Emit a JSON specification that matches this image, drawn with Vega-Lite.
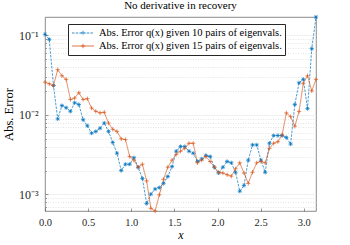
{
  "$schema": "https://vega.github.io/schema/vega-lite/v6.json",
  "width": 271,
  "height": 194,
  "autosize": {"type": "none"},
  "padding": {"left": 45, "top": 17, "right": 34, "bottom": 34},
  "background": "white",
  "title": {"text": "No derivative in recovery", "font": "Liberation Serif", "fontSize": 11, "fontWeight": "normal", "color": "#000000", "offset": 2},
  "config": {
    "view": {"stroke": "#6e6e6e", "strokeWidth": 0.8},
    "axis": {"labelFont": "Liberation Serif", "titleFont": "Liberation Serif", "labelColor": "#262626", "titleColor": "#000000", "titleFontWeight": "normal", "domain": false, "tickColor": "#555555", "tickWidth": 0.6}
  },
  "data": {"values": [
    {"x": 0.0000, "b10": 0.103, "b15": 0.0258},
    {"x": 0.0491, "b10": 0.089, "b15": 0.0246},
    {"x": 0.0982, "b10": 0.0234, "b15": 0.0234},
    {"x": 0.1473, "b10": 0.0089, "b15": 0.037},
    {"x": 0.1963, "b10": 0.0131, "b15": 0.031},
    {"x": 0.2454, "b10": 0.0123, "b15": 0.028},
    {"x": 0.2945, "b10": 0.0111, "b15": 0.0156},
    {"x": 0.3436, "b10": 0.0142, "b15": 0.0163},
    {"x": 0.3927, "b10": 0.0135, "b15": 0.019},
    {"x": 0.4418, "b10": 0.0087, "b15": 0.0156},
    {"x": 0.4909, "b10": 0.0073, "b15": 0.016},
    {"x": 0.5400, "b10": 0.0059, "b15": 0.0122},
    {"x": 0.5890, "b10": 0.0062, "b15": 0.0111},
    {"x": 0.6381, "b10": 0.0068, "b15": 0.0106},
    {"x": 0.6872, "b10": 0.0079, "b15": 0.0108},
    {"x": 0.7363, "b10": 0.0062, "b15": 0.0079},
    {"x": 0.7854, "b10": 0.0045, "b15": 0.0066},
    {"x": 0.8345, "b10": 0.0033, "b15": 0.0062},
    {"x": 0.8836, "b10": 0.0020, "b15": 0.0050},
    {"x": 0.9327, "b10": 0.0024, "b15": 0.0049},
    {"x": 0.9817, "b10": 0.0024, "b15": 0.0030},
    {"x": 1.0308, "b10": 0.0029, "b15": 0.0027},
    {"x": 1.0799, "b10": 0.0022, "b15": 0.0022},
    {"x": 1.1290, "b10": 0.00159, "b15": 0.0024},
    {"x": 1.1781, "b10": 0.00077, "b15": 0.00148},
    {"x": 1.2272, "b10": 0.00101, "b15": 0.00067},
    {"x": 1.2763, "b10": 0.00117, "b15": 0.00062},
    {"x": 1.3254, "b10": 0.00122, "b15": 0.00099},
    {"x": 1.3744, "b10": 0.00138, "b15": 0.00155},
    {"x": 1.4235, "b10": 0.00168, "b15": 0.0022},
    {"x": 1.4726, "b10": 0.00224, "b15": 0.0027},
    {"x": 1.5217, "b10": 0.0035, "b15": 0.0032},
    {"x": 1.5708, "b10": 0.0040, "b15": 0.0035},
    {"x": 1.6199, "b10": 0.0040, "b15": 0.0038},
    {"x": 1.6690, "b10": 0.0035, "b15": 0.0044},
    {"x": 1.7181, "b10": 0.0033, "b15": 0.0044},
    {"x": 1.7671, "b10": 0.0026, "b15": 0.0025},
    {"x": 1.8162, "b10": 0.0028, "b15": 0.0027},
    {"x": 1.8653, "b10": 0.0031, "b15": 0.0030},
    {"x": 1.9144, "b10": 0.0030, "b15": 0.0026},
    {"x": 1.9635, "b10": 0.0022, "b15": 0.0022},
    {"x": 2.0126, "b10": 0.00186, "b15": 0.0019},
    {"x": 2.0617, "b10": 0.0022, "b15": 0.00186},
    {"x": 2.1108, "b10": 0.0026, "b15": 0.00177},
    {"x": 2.1598, "b10": 0.0025, "b15": 0.0017},
    {"x": 2.2089, "b10": 0.0019, "b15": 0.0021},
    {"x": 2.2580, "b10": 0.0011, "b15": 0.0025},
    {"x": 2.3071, "b10": 0.0013, "b15": 0.00186},
    {"x": 2.3562, "b10": 0.0027, "b15": 0.00138},
    {"x": 2.4053, "b10": 0.0042, "b15": 0.0019},
    {"x": 2.4544, "b10": 0.0042, "b15": 0.0025},
    {"x": 2.5035, "b10": 0.0027, "b15": 0.0026},
    {"x": 2.5525, "b10": 0.0019, "b15": 0.0025},
    {"x": 2.6016, "b10": 0.0044, "b15": 0.0038},
    {"x": 2.6507, "b10": 0.0055, "b15": 0.0044},
    {"x": 2.6998, "b10": 0.0055, "b15": 0.0046},
    {"x": 2.7489, "b10": 0.0055, "b15": 0.0056},
    {"x": 2.7980, "b10": 0.0052, "b15": 0.0106},
    {"x": 2.8471, "b10": 0.0043, "b15": 0.0095},
    {"x": 2.8962, "b10": 0.0135, "b15": 0.0072},
    {"x": 2.9452, "b10": 0.0253, "b15": 0.0110},
    {"x": 2.9943, "b10": 0.028, "b15": 0.025},
    {"x": 3.0434, "b10": 0.012, "b15": 0.031},
    {"x": 3.0925, "b10": 0.068, "b15": 0.020},
    {"x": 3.1416, "b10": 0.17, "b15": 0.028}
  ]},
  "transform": [{"fold": ["b10", "b15"], "as": ["series", "err"]}],
  "encoding": {
    "x": {
      "field": "x", "type": "quantitative",
      "scale": {"domain": [0, 3.14159], "nice": false, "zero": false},
      "axis": {"values": [0, 0.5, 1, 1.5, 2, 2.5, 3], "grid": false, "title": "x", "titleFontStyle": "italic", "titleFontSize": 12, "labelFontSize": 10.5, "tickSize": -3, "labelPadding": 9, "titlePadding": 2, "labelFlush": false}
    },
    "y": {
      "field": "err", "type": "quantitative",
      "scale": {"type": "log", "domain": [0.00062, 0.17], "nice": false},
      "axis": {
        "values": [0.0007, 0.0008, 0.0009, 0.001, 0.002, 0.003, 0.004, 0.005, 0.006, 0.007, 0.008, 0.009, 0.01, 0.02, 0.03, 0.04, 0.05, 0.06, 0.07, 0.08, 0.09, 0.1],
        "labelExpr": "datum.value == 0.1 ? '10⁻¹' : datum.value == 0.01 ? '10⁻²' : datum.value == 0.001 ? '10⁻³' : ''",
        "grid": true,
        "gridColor": {"condition": {"test": "datum.value == 0.1 || datum.value == 0.01 || datum.value == 0.001", "value": "#e6e6e6"}, "value": "#d4d4d4"},
        "gridDash": {"condition": {"test": "datum.value == 0.1 || datum.value == 0.01 || datum.value == 0.001", "value": []}, "value": [1, 1.5]},
        "gridWidth": 0.6,
        "tickSize": {"condition": {"test": "datum.value == 0.1 || datum.value == 0.01 || datum.value == 0.001", "value": -3}, "value": -1.5},
        "labelPadding": 10,
        "labelFontSize": 12,
        "title": "Abs. Error", "titleFontSize": 12.5, "titlePadding": 3
      }
    },
    "color": {
      "field": "series", "type": "nominal",
      "scale": {"domain": ["b10", "b15"], "range": ["#0072BD", "#D95319"]},
      "legend": {
        "orient": "none", "legendX": 23, "legendY": 7, "title": null, "direction": "vertical",
        "labelExpr": "datum.label == 'b10' ? 'Abs. Error q(x) given 10 pairs of eigenvals.' : 'Abs. Error q(x) given 15 pairs of eigenvals.'",
        "labelFont": "Liberation Serif", "labelFontSize": 10.5, "labelColor": "#000000", "labelLimit": 400,
        "symbolType": "M-2,0L2,0M0,-0.4L0,0.4M-0.4,0L0.4,0",
        "symbolSize": 121, "symbolStrokeWidth": 0.8, "symbolOffset": 6, "labelOffset": 10,
        "strokeColor": "#262626", "fillColor": "white", "padding": 3, "rowPadding": 1
      }
    }
  },
  "layer": [
    {
      "mark": {"type": "line", "strokeWidth": 0.7},
      "encoding": {
        "strokeDash": {"field": "series", "type": "nominal", "scale": {"domain": ["b10", "b15"], "range": [[2.5, 1.2], [1, 0]]}, "legend": null}
      }
    },
    {
      "transform": [{"filter": "datum.series == 'b10'"}],
      "mark": {"type": "point", "filled": false, "strokeWidth": 0.7, "size": 18, "opacity": 1, "shape": "M-1,0L1,0M0,-1L0,1M-0.7,-0.7L0.7,0.7M-0.7,0.7L0.7,-0.7"}
    },
    {
      "transform": [{"filter": "datum.series == 'b15'"}],
      "mark": {"type": "point", "filled": false, "strokeWidth": 0.7, "size": 18, "opacity": 1, "shape": "M-1,0L1,0M0,-1L0,1"}
    }
  ]
}
